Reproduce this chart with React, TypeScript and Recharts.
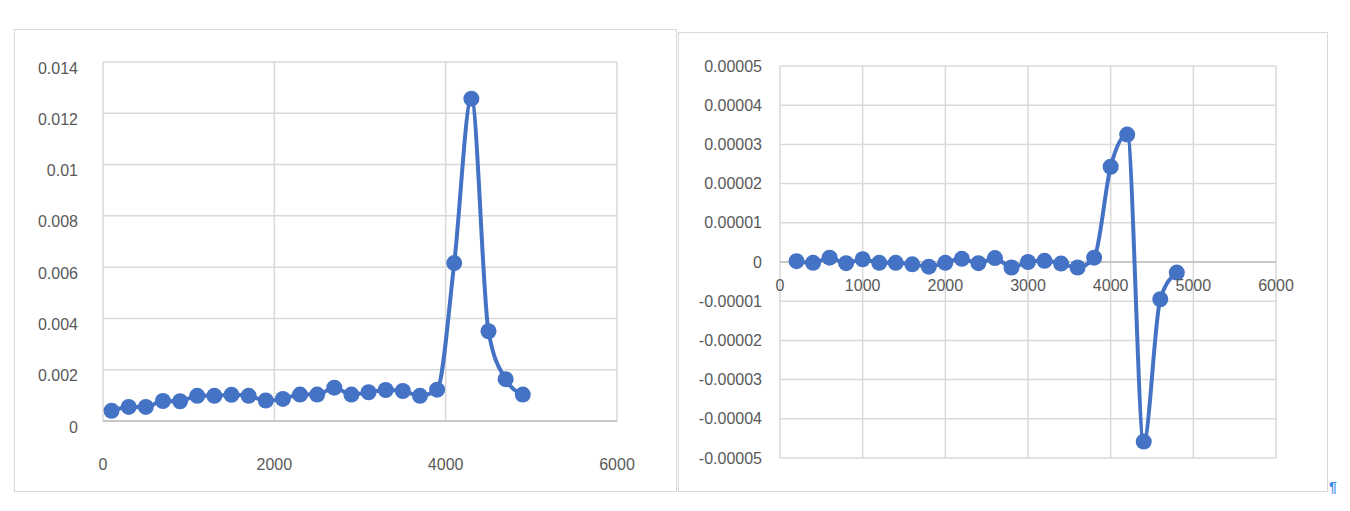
import React from "react";
import { LineChart, Line, XAxis, YAxis, CartesianGrid, ReferenceLine } from "recharts";

// left panel: sampled magnitude
const leftX = [100, 300, 500, 700, 900, 1100, 1300, 1500, 1700, 1900, 2100, 2300, 2500, 2700, 2900, 3100, 3300, 3500, 3700, 3900, 4100, 4300, 4500, 4700, 4900];
const leftY = [0.0004, 0.00055, 0.00055, 0.00078, 0.00077, 0.00098, 0.00098, 0.00102, 0.00098, 0.0008, 0.00086, 0.00103, 0.00103, 0.0013, 0.00103, 0.00112, 0.00121, 0.00117, 0.00098, 0.00122, 0.00616, 0.01257, 0.0035, 0.00163, 0.00103];
const leftXTicks = [0, 2000, 4000, 6000];
const leftYTicks = [0, 0.002, 0.004, 0.006, 0.008, 0.01, 0.012, 0.014];

// right panel: derivative-like series
const rightX = [200, 400, 600, 800, 1000, 1200, 1400, 1600, 1800, 2000, 2200, 2400, 2600, 2800, 3000, 3200, 3400, 3600, 3800, 4000, 4200, 4400, 4600, 4800];
const rightY = [0.0000002, -0.0000002, 0.0000011, -0.0000003, 0.0000007, -0.0000002, -0.0000002, -0.0000006, -0.0000012, -0.0000002, 0.0000008, -0.0000003, 0.000001, -0.0000014, 0, 0.0000003, -0.0000004, -0.0000014, 0.0000011, 0.0000243, 0.0000325, -0.0000458, -0.0000095, -0.0000027];
const rightXTicks = [0, 1000, 2000, 3000, 4000, 5000, 6000];
const rightYTicks = [-0.00005, -0.00004, -0.00003, -0.00002, -0.00001, 0, 0.00001, 0.00002, 0.00003, 0.00004, 0.00005];

const leftData = leftX.map((x, i) => ({ x, y: leftY[i] }));
const rightData = rightX.map((x, i) => ({ x, y: rightY[i] }));

const BLUE = "#4472C4";
const GRID = "#d9d9d9";
const AXIS = "#bfbfbf";
const TEXT = "#595959";
const FONT = "'Liberation Sans', Arial, sans-serif";

const RIGHT_PLOT_H = 392;

function YTick({ x, y, payload, gap, dy }: any) {
  return (
    <text x={x - gap} y={y + dy} textAnchor="end" dominantBaseline="central" fill={TEXT} fontSize={16} fontFamily={FONT}>
      {String(payload.value)}
    </text>
  );
}

function XTick({ x, y, payload, dy }: any) {
  return (
    <text x={x} y={y + dy} textAnchor="middle" dominantBaseline="central" fill={TEXT} fontSize={16} fontFamily={FONT}>
      {String(payload.value)}
    </text>
  );
}

export default function App() {
  const yMin = rightYTicks[0];
  const yMax = rightYTicks[rightYTicks.length - 1];
  // x labels in the right panel sit just under the zero line
  const zeroOffset = -RIGHT_PLOT_H * (0 - yMin) / (yMax - yMin) + 23;

  return (
    <div style={{ position: "fixed", left: 0, top: 0, width: 1350, height: 511, background: "#fff" }}>
      <div style={{ position: "absolute", left: 14, top: 29, width: 663, height: 463, boxSizing: "border-box", border: `1.5px solid ${GRID}` }} />
      <div style={{ position: "absolute", left: 678, top: 32, width: 650, height: 460, boxSizing: "border-box", border: `1.5px solid ${GRID}` }} />

      <div style={{ position: "absolute", left: 14, top: 29 }}>
        <LineChart width={663} height={463} data={leftData} margin={{ top: 33, right: 60, left: 0, bottom: 0 }}>
          <CartesianGrid stroke={GRID} strokeWidth={1.5} />
          <XAxis
            dataKey="x"
            type="number"
            domain={[0, 6000]}
            ticks={leftXTicks}
            height={71}
            tickSize={0}
            tickMargin={0}
            tickLine={false}
            axisLine={{ stroke: AXIS, strokeWidth: 1.5 }}
            tick={<XTick dy={43} />}
          />
          <YAxis
            type="number"
            domain={[0, 0.014]}
            ticks={leftYTicks}
            width={89}
            tickSize={0}
            tickMargin={0}
            tickLine={false}
            axisLine={false}
            tick={<YTick gap={25} dy={6} />}
          />
          <Line
            type="monotone"
            dataKey="y"
            stroke={BLUE}
            strokeWidth={4}
            dot={{ r: 8, fill: BLUE, stroke: BLUE, strokeWidth: 0 }}
            activeDot={false}
            isAnimationActive={false}
          />
        </LineChart>
      </div>

      <div style={{ position: "absolute", left: 678, top: 32 }}>
        <LineChart width={650} height={460} data={rightData} margin={{ top: 34, right: 52, left: 0, bottom: 0 }}>
          <CartesianGrid stroke={GRID} strokeWidth={1.5} />
          <XAxis
            dataKey="x"
            type="number"
            domain={[0, 6000]}
            ticks={rightXTicks}
            height={34}
            tickSize={0}
            tickMargin={0}
            tickLine={false}
            axisLine={false}
            tick={<XTick dy={zeroOffset} />}
          />
          <YAxis
            type="number"
            domain={[yMin, yMax]}
            ticks={rightYTicks}
            width={102}
            tickSize={0}
            tickMargin={0}
            tickLine={false}
            axisLine={false}
            tick={<YTick gap={18} dy={0} />}
          />
          <ReferenceLine y={0} stroke={AXIS} strokeWidth={1.5} />
          <Line
            type="monotone"
            dataKey="y"
            stroke={BLUE}
            strokeWidth={4}
            dot={{ r: 8, fill: BLUE, stroke: BLUE, strokeWidth: 0 }}
            activeDot={false}
            isAnimationActive={false}
          />
        </LineChart>
      </div>

      <div style={{ position: "absolute", left: 1329, top: 479, color: "#3b8beb", fontSize: 14, fontWeight: "bold", fontFamily: FONT, lineHeight: "16px" }}>¶</div>
    </div>
  );
}
